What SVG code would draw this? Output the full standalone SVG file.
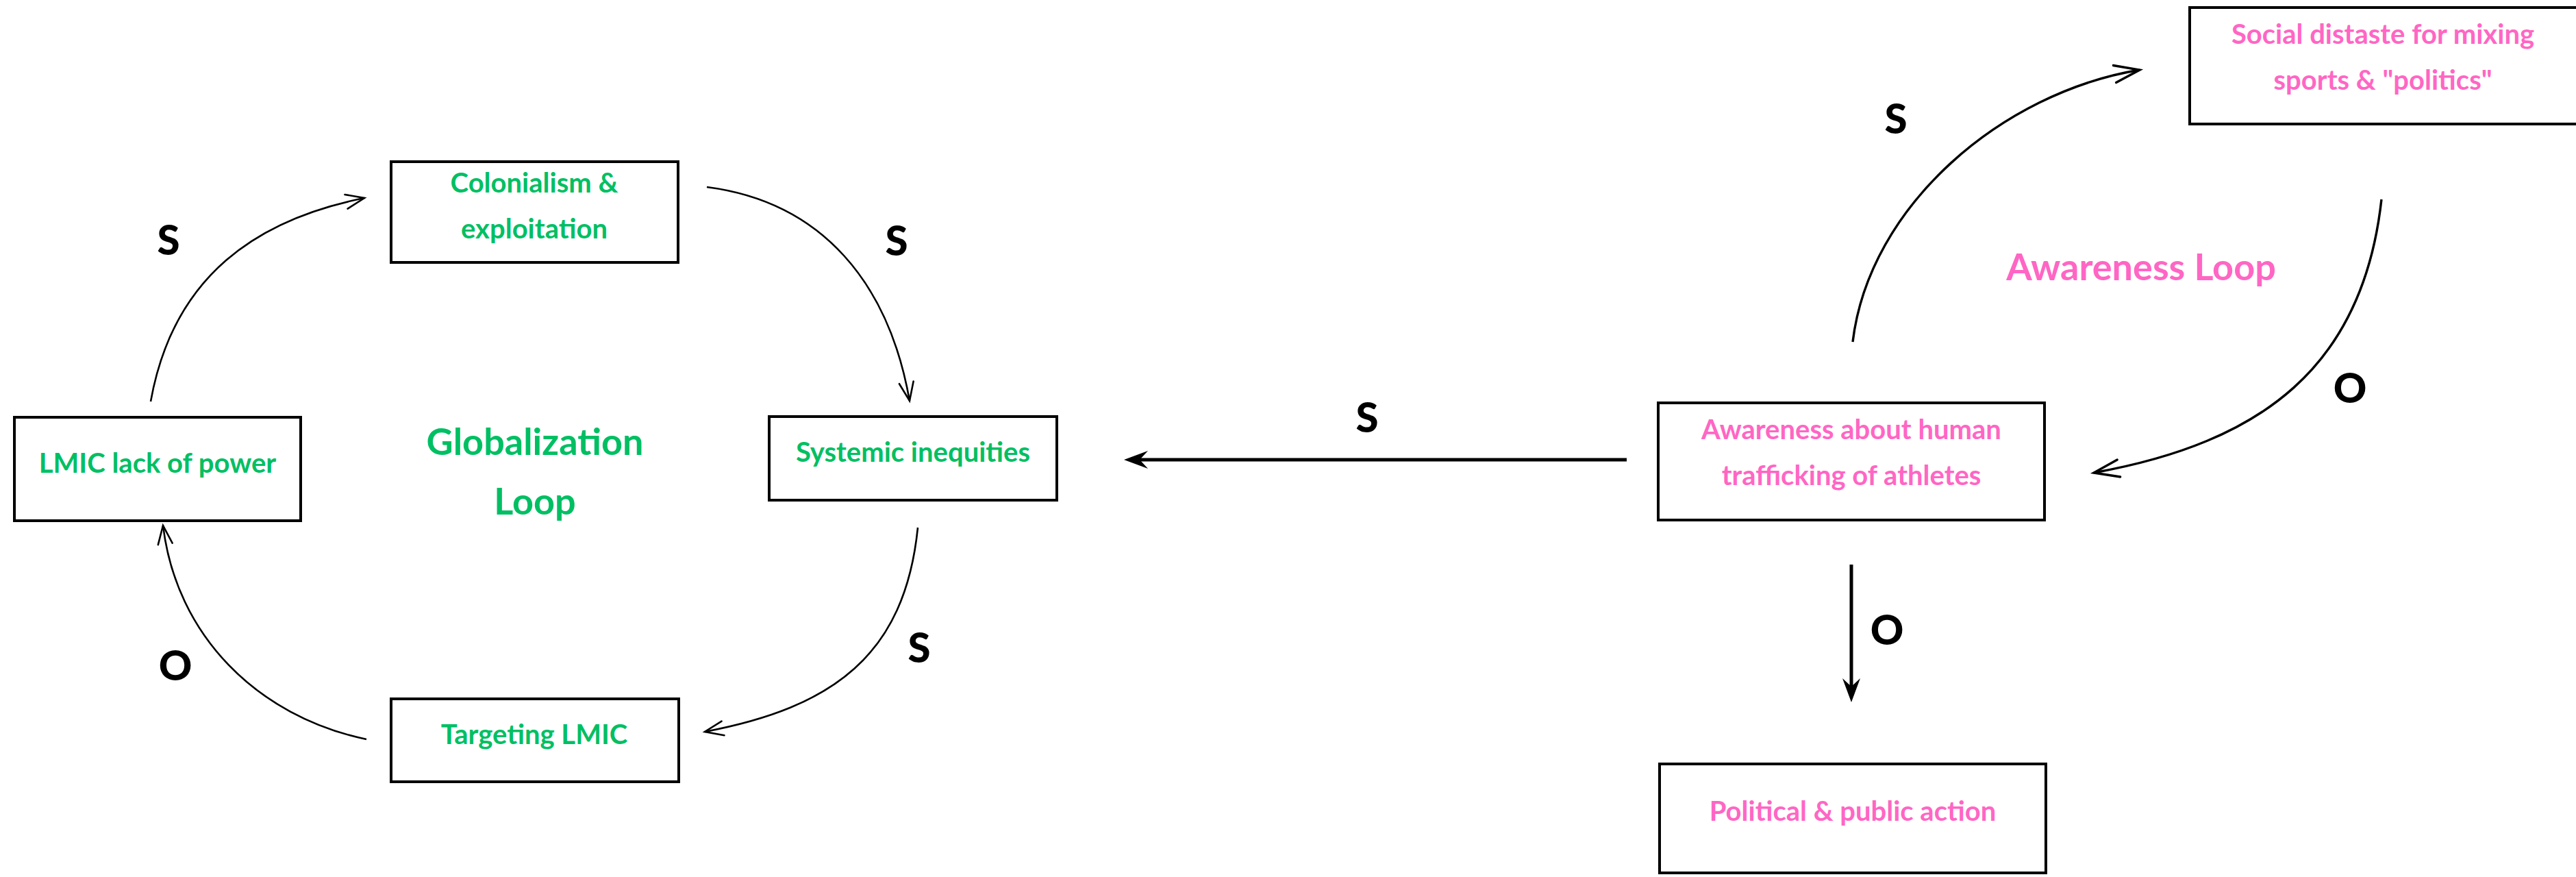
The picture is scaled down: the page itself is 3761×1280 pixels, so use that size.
<svg xmlns="http://www.w3.org/2000/svg" width="3761" height="1280" viewBox="0 0 3761 1280">
<style>
.box{fill:#ffffff;stroke:#000000;stroke-width:4}
.t{font-family:Lato,"Liberation Sans",sans-serif;font-weight:700;font-size:40px;text-anchor:middle}
.g{fill:#00bf63}
.p{fill:#ff66c4}
.title{font-family:Lato,"Liberation Sans",sans-serif;font-weight:700;font-size:54px;text-anchor:middle}
.lbl{font-family:Lato,"Liberation Sans",sans-serif;font-weight:900;font-size:60px;text-anchor:middle;fill:#000000}
.thin{fill:none;stroke:#000000;stroke-width:2.6;marker-end:url(#vThin)}
.mid{fill:none;stroke:#000000;stroke-width:3.4;marker-end:url(#vThick)}
.straight{fill:none;stroke:#000000;stroke-width:5;marker-end:url(#barb)}
</style>
<defs>
<marker id="vThin" markerUnits="userSpaceOnUse" orient="auto" refX="0" refY="0" overflow="visible">
<path d="M-27,-10.5 L0,0 L-27,10.5" fill="none" stroke="#000000" stroke-width="2.6" stroke-linecap="round"/>
</marker>
<marker id="vThick" markerUnits="userSpaceOnUse" orient="auto" refX="0" refY="0" overflow="visible">
<path d="M-37,-12.7 L0,0 L-37,12.7" fill="none" stroke="#000000" stroke-width="3.4" stroke-linecap="round"/>
</marker>
<marker id="barb" markerUnits="userSpaceOnUse" orient="auto" refX="0" refY="0" overflow="visible">
<path d="M23,0 L-12,-13 L0,0 L-12,13 Z" fill="#000000"/>
</marker>
</defs>
<rect width="3761" height="1280" fill="#ffffff"/>

<g id="connectors">
<path class="thin" d="M220,586 C253,401 377,320 532,289"/>
<path class="thin" d="M1032,273 C1202,295 1298,415 1328,585"/>
<path class="thin" d="M1340,770 C1321,957 1216,1032.5 1029,1068"/>
<path class="thin" d="M535,1079 C375,1045.4 257.2,927 238,767"/>
<path class="mid" d="M2705,499 C2729,299 2924,135 3124,102"/>
<path class="mid" d="M3477,291 C3450,536 3302,646 3057,690"/>
<path class="straight" d="M2375,671 L1664,671"/>
<path class="straight" d="M2703,824 L2703,1002"/>
<text class="lbl" x="246" y="372">S</text>
<text class="lbl" x="1309" y="373">S</text>
<text class="lbl" x="1342" y="967">S</text>
<text class="lbl" x="256" y="993">O</text>
<text class="lbl" x="1996" y="631">S</text>
<text class="lbl" x="2768" y="195">S</text>
<text class="lbl" x="3431" y="588">O</text>
<text class="lbl" x="2755" y="941">O</text>
</g>

<g id="node-colonialism">
<rect class="box" x="571" y="236" width="419" height="147"/>
<text class="t g" x="780" y="281">Colonialism &amp;</text>
<text class="t g" x="780" y="348">exploitation</text>
</g>
<g id="node-lmic-lack">
<rect class="box" x="21" y="609" width="418" height="151"/>
<text class="t g" x="230" y="690">LMIC lack of power</text>
</g>
<g id="node-systemic">
<rect class="box" x="1123" y="608" width="420" height="122"/>
<text class="t g" x="1333" y="674">Systemic inequities</text>
</g>
<g id="node-targeting">
<rect class="box" x="571" y="1020" width="420" height="121"/>
<text class="t g" x="780" y="1086">Targeting LMIC</text>
</g>
<g id="node-awareness">
<rect class="box" x="2421" y="588" width="564" height="171"/>
<text class="t p" x="2703" y="641">Awareness about human</text>
<text class="t p" x="2703" y="708">trafficking of athletes</text>
</g>
<g id="node-social">
<rect class="box" x="3197" y="11" width="566" height="170"/>
<text class="t p" x="3479" y="64">Social distaste for mixing</text>
<text class="t p" x="3479" y="131">sports &amp; "politics"</text>
</g>
<g id="node-political">
<rect class="box" x="2423" y="1115" width="564" height="159"/>
<text class="t p" x="2705" y="1198">Political &amp; public action</text>
</g>

<g id="loop-titles">
<text class="title g" x="781" y="664">Globalization</text>
<text class="title g" x="781" y="751">Loop</text>
<text class="title p" x="3126" y="409">Awareness Loop</text>
</g>
</svg>
